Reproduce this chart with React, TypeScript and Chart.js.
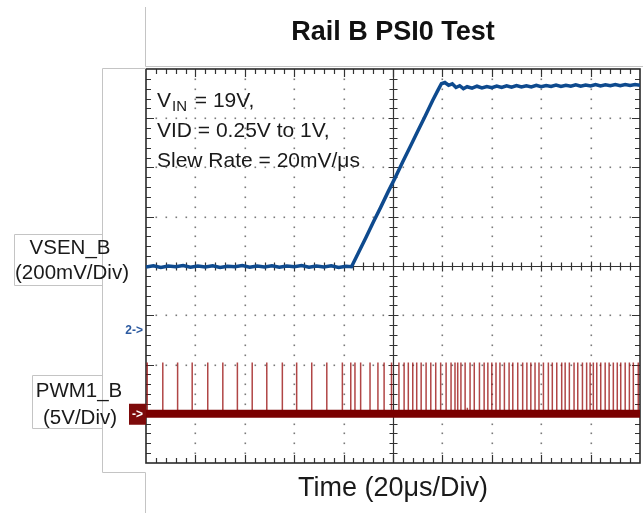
import React, { useEffect, useRef } from "react";
import { Chart, registerables } from "chart.js";

Chart.register(...registerables);

// ---------- text ----------
const titleText = "Rail B PSI0 Test";
const xAxisTitle = "Time (20μs/Div)";
const ch2Label = ["VSEN_B", "(200mV/Div)"];
const ch1Label = ["PWM1_B", "(5V/Div)"];
const noteLines = ["VID = 0.25V to 1V,", "Slew Rate = 20mV/μs"];

// ---------- scales (oscilloscope graticule: 10 x 8 divisions) ----------
const timeMin = 0; // μs
const timePerDiv = 20; // μs/div
const xDivs = 10;
const yDivs = 8;
const vsenCenter = 0.25; // V at screen centre
const vsenPerDiv = 0.2; // V/div
const pwmPerDiv = 5; // V/div
const pwmZeroDiv = -3; // PWM ground marker, divisions from centre

// ---------- VSEN_B trace (time μs, volts) ----------
const vsenTime = [
  0, 3, 6, 9, 12, 15, 18, 21, 24, 27, 30, 33, 36, 39, 42, 45, 48, 51, 54, 57,
  60, 63, 66, 69, 72, 75, 78, 81, 83.2,
  86, 89, 92, 95, 98, 101, 104, 107, 110, 113, 116, 118, 119.6,
  121, 122.5, 124, 125.5, 127, 128.5, 130, 132, 134, 136, 138, 140, 142, 144,
  146, 148, 150, 152, 154, 156, 158, 160, 162, 164, 166, 168, 170, 172, 174,
  176, 178, 180, 182, 184, 186, 188, 190, 192, 194, 196, 198, 200,
];
const vsenValue = [
  0.246, 0.251, 0.244, 0.25, 0.247, 0.252, 0.245, 0.25, 0.246, 0.251, 0.244,
  0.249, 0.247, 0.252, 0.245, 0.25, 0.246, 0.251, 0.245, 0.25, 0.247, 0.252,
  0.245, 0.25, 0.246, 0.251, 0.244, 0.249, 0.247,
  0.304, 0.365, 0.428, 0.488, 0.551, 0.611, 0.674, 0.735, 0.797, 0.858, 0.921,
  0.96, 0.99,
  0.995, 0.984, 0.99, 0.975, 0.982, 0.97, 0.978, 0.972, 0.98, 0.973, 0.979,
  0.974, 0.981, 0.975, 0.982, 0.976, 0.983, 0.977, 0.982, 0.977, 0.984, 0.978,
  0.983, 0.979, 0.985, 0.979, 0.984, 0.98, 0.986, 0.98, 0.985, 0.981, 0.987,
  0.981, 0.986, 0.982, 0.987, 0.982, 0.987, 0.983, 0.987, 0.984,
];

// ---------- PWM1_B pulses (time μs, pulse height V) ----------
const pwmPulseTime = [
  0.5, 6.8, 6.8, 12.8, 18.7, 18.7, 25.0, 31.1, 31.1, 37.0, 43.0, 43.0, 48.9,
  55.2, 55.2, 61.0, 67.1, 73.2, 79.5, 82.9, 84.6, 86.9, 90.7, 93.9, 93.9, 96.4,
  96.4, 99.4, 102.4, 104.5, 106.2, 108.0, 109.6, 111.4, 113.4, 115.3, 117.3,
  119.3, 121.5, 123.5, 125.1, 126.2, 127.5, 127.5, 129.2, 130.1, 131.2, 131.2,
  132.9, 135.0, 136.9, 138.4, 140.0, 141.7, 143.3, 145.1, 147.0, 147.0, 148.5,
  148.5, 150.5, 152.5, 152.5, 154.2, 155.8, 157.5, 159.1, 160.9, 162.9, 164.5,
  166.3, 168.3, 169.7, 171.4, 173.3, 174.8, 176.7, 178.4, 179.8, 179.8, 181.1,
  182.5, 184.1, 185.9, 187.5, 189.2, 190.8, 192.2, 194.0, 195.7, 197.3, 197.3,
  199.3,
];
const pwmPulseHeight = [
  5.2, 5.2, 5.2, 5.2, 5.2, 5.2, 5.2, 5.2, 5.2, 5.2, 5.2, 5.2, 5.2,
  5.2, 1.3, 5.2, 5.2, 5.2, 5.2, 5.2, 5.2, 5.2, 5.2, 5.2, 2.3, 5.2,
  5.2, 5.2, 5.2, 5.2, 5.2, 5.2, 5.2, 5.2, 5.2, 5.2, 5.2,
  5.2, 5.2, 5.2, 5.2, 5.2, 5.2, 1.4, 5.2, 0.6, 5.2, 4.1,
  5.2, 5.2, 5.2, 5.2, 5.2, 5.2, 5.2, 5.2, 5.2, 4.4, 5.2,
  4.6, 5.2, 5.2, 1.3, 5.2, 5.2, 5.2, 5.2, 5.2, 5.2, 5.2,
  5.2, 5.2, 5.2, 5.2, 5.2, 5.2, 5.2, 5.2, 5.2, 4.3, 5.2,
  5.2, 5.2, 5.2, 5.2, 5.2, 5.2, 5.2, 5.2, 5.2, 5.2, 2.2,
  5.2,
];
const pwmBaseTime = [0, 200];
const pwmBaseValue = [0, 0];

const FONT = "'Liberation Sans', Arial, sans-serif";

const graticulePlugin = {
  id: "graticule",
  beforeDatasetsDraw(chart: any) {
    const { ctx, chartArea: a } = chart;
    const xs = chart.scales.x;
    const ys = chart.scales.y;
    const vMin = vsenCenter - (yDivs / 2) * vsenPerDiv;
    const xPix = (d: number) => xs.getPixelForValue(timeMin + d * timePerDiv);
    const yPix = (d: number) => ys.getPixelForValue(vMin + d * vsenPerDiv);
    ctx.save();
    // dotted grid
    ctx.fillStyle = "#7a7a7a";
    for (let i = 1; i < xDivs; i++) {
      if (i === xDivs / 2) continue;
      const x = Math.round(xPix(i));
      for (let j = 1; j < yDivs * 5; j++) {
        const y = Math.round(yPix(j / 5));
        ctx.fillRect(x - 0.5, y - 0.5, 1.6, 1.6);
      }
    }
    for (let k = 1; k < yDivs; k++) {
      if (k === yDivs / 2) continue;
      const y = Math.round(yPix(k));
      for (let j = 1; j < xDivs * 5; j++) {
        if (j % 5 === 0) continue;
        const x = Math.round(xPix(j / 5));
        ctx.fillRect(x - 0.5, y - 0.5, 1.6, 1.6);
      }
    }
    // centre cross
    ctx.strokeStyle = "#333";
    ctx.lineWidth = 1.2;
    const cx = Math.round(xPix(xDivs / 2)) + 0.5;
    const cy = Math.round(yPix(yDivs / 2)) + 0.5;
    ctx.beginPath();
    ctx.moveTo(cx, a.top);
    ctx.lineTo(cx, a.bottom);
    ctx.moveTo(a.left, cy);
    ctx.lineTo(a.right, cy);
    for (let j = 1; j < yDivs * 5; j++) {
      const y = Math.round(yPix(j / 5)) + 0.5;
      const l = j % 5 === 0 ? 5 : 4;
      ctx.moveTo(cx - l, y);
      ctx.lineTo(cx + l, y);
    }
    for (let j = 1; j < xDivs * 5; j++) {
      const x = Math.round(xPix(j / 5)) + 0.5;
      const l = j % 5 === 0 ? 5 : 4;
      ctx.moveTo(x, cy - l);
      ctx.lineTo(x, cy + l);
    }
    ctx.stroke();
    // border ticks
    ctx.beginPath();
    for (let j = 1; j < xDivs * 5; j++) {
      const x = Math.round(xPix(j / 5)) + 0.5;
      const l = j % 5 === 0 ? 8 : 5;
      ctx.moveTo(x, a.top);
      ctx.lineTo(x, a.top + l);
      ctx.moveTo(x, a.bottom);
      ctx.lineTo(x, a.bottom - l);
    }
    for (let j = 1; j < yDivs * 5; j++) {
      const y = Math.round(yPix(j / 5)) + 0.5;
      const l = j % 5 === 0 ? 8 : 5;
      ctx.moveTo(a.left, y);
      ctx.lineTo(a.left + l, y);
      ctx.moveTo(a.right, y);
      ctx.lineTo(a.right - l, y);
    }
    ctx.stroke();
    // border
    ctx.strokeStyle = "#2a2a2a";
    ctx.lineWidth = 1.6;
    ctx.strokeRect(a.left, a.top, a.right - a.left, a.bottom - a.top);
    ctx.restore();
  },
  afterDatasetsDraw(chart: any) {
    const { ctx, chartArea: a } = chart;
    const ys = chart.scales.y;
    const vMin = vsenCenter - (yDivs / 2) * vsenPerDiv;
    const yPix = (d: number) => ys.getPixelForValue(vMin + d * vsenPerDiv);
    ctx.save();
    // frame lines
    ctx.strokeStyle = "#c4c4c4";
    ctx.lineWidth = 1;
    ctx.beginPath();
    ctx.moveTo(a.left - 0.5, 7);
    ctx.lineTo(a.left - 0.5, 66.5);
    ctx.lineTo(643, 66.5);
    ctx.moveTo(a.left, 68.5);
    ctx.lineTo(102.5, 68.5);
    ctx.lineTo(102.5, 472.5);
    ctx.lineTo(a.left - 0.5, 472.5);
    ctx.lineTo(a.left - 0.5, 513);
    // label boxes
    ctx.moveTo(102.5, 234.5);
    ctx.lineTo(14.5, 234.5);
    ctx.lineTo(14.5, 285.5);
    ctx.lineTo(102.5, 285.5);
    ctx.moveTo(102.5, 375.5);
    ctx.lineTo(32.5, 375.5);
    ctx.lineTo(32.5, 428.5);
    ctx.lineTo(102.5, 428.5);
    ctx.stroke();

    // title
    ctx.fillStyle = "#111";
    ctx.textAlign = "center";
    ctx.textBaseline = "middle";
    ctx.font = `bold 27px ${FONT}`;
    ctx.fillText(titleText, (a.left + a.right) / 2, 33);
    // x title
    ctx.fillStyle = "#1a1a1a";
    ctx.font = `27px ${FONT}`;
    ctx.fillText(xAxisTitle, (a.left + a.right) / 2, 489);
    // channel labels
    ctx.font = `20.5px ${FONT}`;
    ctx.fillText(ch2Label[0], 70, 248);
    ctx.fillText(ch2Label[1], 72, 273);
    ctx.fillText(ch1Label[0], 79, 391);
    ctx.fillText(ch1Label[1], 80, 418);

    // notes in plot
    ctx.textAlign = "left";
    ctx.textBaseline = "alphabetic";
    ctx.font = `21px ${FONT}`;
    const nx = a.left + 11;
    ctx.fillText("V", nx, 107);
    const vw = ctx.measureText("V").width;
    ctx.font = `15px ${FONT}`;
    ctx.fillText("IN", nx + vw + 1, 111);
    const inw = ctx.measureText("IN").width;
    ctx.font = `21px ${FONT}`;
    ctx.fillText(" = 19V,", nx + vw + inw + 3, 107);
    ctx.fillText(noteLines[0], nx, 137);
    ctx.fillText(noteLines[1], nx, 166.5);

    // channel 2 reference marker
    ctx.fillStyle = "#2c5aa0";
    ctx.font = `bold 12px ${FONT}`;
    ctx.textAlign = "right";
    ctx.textBaseline = "middle";
    ctx.fillText("2->", a.left - 3, 331);
    // channel 1 ground marker
    const gy = yPix(yDivs / 2 + pwmZeroDiv);
    ctx.fillStyle = "#7d0a0a";
    ctx.fillRect(129, gy - 10, a.left - 129, 21);
    ctx.fillStyle = "#fff";
    ctx.textAlign = "center";
    ctx.fillText("->", (129 + a.left) / 2, gy + 1);
    ctx.restore();
  },
};

export default function App() {
  const ref = useRef<HTMLCanvasElement | null>(null);
  useEffect(() => {
    document.body.style.margin = "0";
    const canvas = ref.current;
    if (!canvas) return;
    const pulsePoints: any[] = [];
    pwmPulseTime.forEach((t, i) => {
      pulsePoints.push({ x: t, y: 0 });
      pulsePoints.push({ x: t, y: pwmPulseHeight[i] });
      pulsePoints.push({ x: t, y: null });
    });
    const vMin = vsenCenter - (yDivs / 2) * vsenPerDiv;
    const vMax = vsenCenter + (yDivs / 2) * vsenPerDiv;
    const pMin = (-yDivs / 2 - pwmZeroDiv) * pwmPerDiv;
    const pMax = (yDivs / 2 - pwmZeroDiv) * pwmPerDiv;
    const chart = new Chart(canvas, {
      type: "line",
      data: {
        datasets: [
          {
            label: "VSEN_B",
            data: vsenTime.map((t, i) => ({ x: t, y: vsenValue[i] })),
            borderColor: "#0e4a8e",
            borderWidth: 3.5,
            pointRadius: 0,
            yAxisID: "y",
            order: 1,
          },
          {
            label: "PWM1_B pulses",
            data: pulsePoints,
            borderColor: "rgba(150,8,8,0.75)",
            borderWidth: 1.5,
            pointRadius: 0,
            spanGaps: false,
            yAxisID: "y2",
            order: 3,
          },
          {
            label: "PWM1_B",
            data: pwmBaseTime.map((t, i) => ({ x: t, y: pwmBaseValue[i] })),
            borderColor: "#7a0000",
            borderWidth: 8,
            pointRadius: 0,
            yAxisID: "y2",
            order: 2,
          },
        ],
      },
      options: {
        responsive: false,
        animation: false,
        devicePixelRatio: 1,
        layout: { padding: { left: 146, right: 3, top: 69, bottom: 50 } },
        plugins: { legend: { display: false }, tooltip: { enabled: false }, title: { display: false } },
        elements: { line: { tension: 0 } },
        scales: {
          x: { type: "linear", min: timeMin, max: timeMin + xDivs * timePerDiv, display: false },
          y: { type: "linear", min: vMin, max: vMax, display: false },
          y2: { type: "linear", min: pMin, max: pMax, display: false },
        },
      },
      plugins: [graticulePlugin],
    } as any);
    return () => chart.destroy();
  }, []);
  return (
    <canvas
      ref={ref}
      width={643}
      height={513}
      style={{ display: "block", position: "absolute", left: 0, top: 0 }}
    />
  );
}
